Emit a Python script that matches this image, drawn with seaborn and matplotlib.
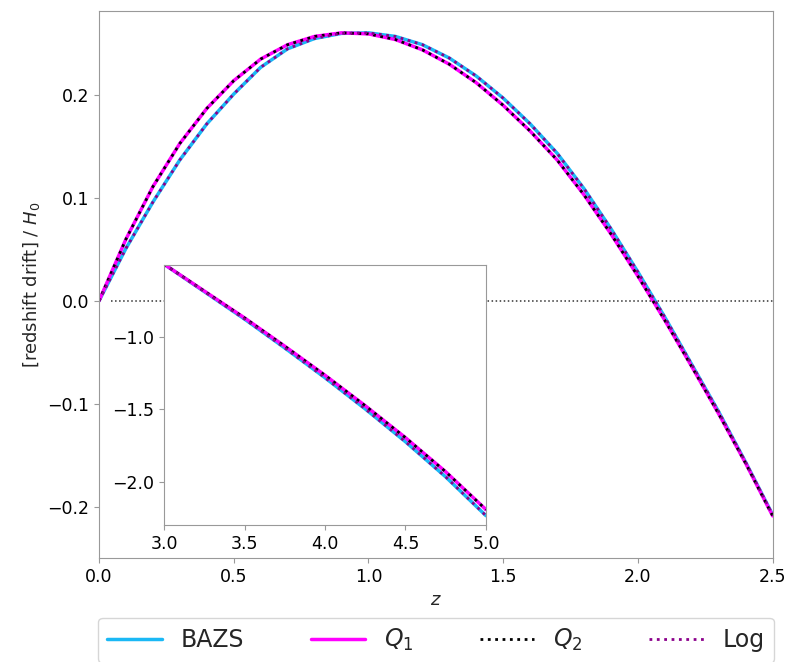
import numpy as np
import pandas as pd
import matplotlib
matplotlib.use('Agg')
import matplotlib.pyplot as plt
import seaborn as sns

# ── data ─────────────────────────────────────────────────────────────────────
z_main = [0.0, 0.1, 0.2, 0.3, 0.4, 0.5, 0.6, 0.7, 0.8, 0.9, 1.0, 1.1, 1.2,
          1.3, 1.4, 1.5, 1.6, 1.7, 1.8, 1.9, 2.0, 2.1, 2.2, 2.3, 2.4, 2.5]
q1_main = [0.000, 0.060, 0.111, 0.153, 0.187, 0.214, 0.235, 0.249, 0.257,
           0.2605, 0.2595, 0.254, 0.244, 0.230, 0.212, 0.190, 0.165, 0.137,
           0.103, 0.065, 0.024, -0.019, -0.064, -0.110, -0.158, -0.209]
bazs_main = [0.000, 0.051, 0.096, 0.137, 0.172, 0.201, 0.227, 0.245, 0.255,
             0.260, 0.2605, 0.257, 0.249, 0.236, 0.2185, 0.197, 0.172, 0.1435,
             0.109, 0.070, 0.028, -0.016, -0.062, -0.108, -0.157, -0.208]
q2_main = q1_main
log_main = bazs_main

z_inset = [3.0, 3.25, 3.5, 3.75, 4.0, 4.25, 4.5, 4.75, 5.0]
q1_inset = [-0.500, -0.685, -0.870, -1.065, -1.265, -1.475, -1.695, -1.930, -2.190]
bazs_inset = [-0.500, -0.689, -0.878, -1.077, -1.282, -1.497, -1.723, -1.965, -2.232]
q2_inset = q1_inset
log_inset = bazs_inset

zero_z = [0.045, 2.5]
zero_y = [0.0, 0.0]

labels = ['BAZS', '$Q_1$', '$Q_2$', 'Log']
colors = ['#1ab8f5', '#ff00ff', 'black', '#8b008b']
styles = ['-', '-', ':', ':']
widths = [2.5, 2.5, 2.0, 2.0]

# ── style ────────────────────────────────────────────────────────────────────
sns.set_style('white')
plt.rcParams['font.family'] = ['DejaVu Sans']
plt.rcParams['axes.edgecolor'] = '#999999'
plt.rcParams['xtick.color'] = '#999999'
plt.rcParams['ytick.color'] = '#999999'
plt.rcParams['xtick.labelcolor'] = 'black'
plt.rcParams['ytick.labelcolor'] = 'black'
plt.rcParams['xtick.bottom'] = True
plt.rcParams['ytick.left'] = True

fig = plt.figure(figsize=(7.87, 6.62), dpi=100)
ax = fig.add_axes([0.1258, 0.157, 0.8560, 0.8268])

main_sets = [bazs_main, q1_main, q2_main, log_main]
for vals, lab, c, ls, lw in zip(main_sets, labels, colors, styles, widths):
    sns.lineplot(x=z_main, y=vals, ax=ax, color=c, linestyle=ls, linewidth=lw,
                 label=lab, legend=False)
ax.plot(zero_z, zero_y, ':', color='#333333', linewidth=1.1, zorder=0)

ax.set_xlim(0, 2.5)
ax.set_ylim(-0.25, 0.282)
ax.set_xticks([0.0, 0.5, 1.0, 1.5, 2.0, 2.5])
ax.set_yticks([-0.2, -0.1, 0.0, 0.1, 0.2])
ax.tick_params(labelsize=12.5)
ax.set_xlabel('$z$', fontsize=13, labelpad=4)
ax.set_ylabel('[redshift drift] / $H_0$', fontsize=13)

# ── inset ────────────────────────────────────────────────────────────────────
axin = fig.add_axes([0.2084, 0.207, 0.4091, 0.3931])
axin.set_facecolor('white')
inset_sets = [bazs_inset, q1_inset, q2_inset, log_inset]
for vals, c, ls, lw in zip(inset_sets, colors, styles, widths):
    sns.lineplot(x=z_inset, y=vals, ax=axin, color=c, linestyle=ls,
                 linewidth=lw, legend=False)
axin.set_xlim(3, 5)
axin.set_ylim(-2.296, -0.504)
axin.set_xticks([3.0, 3.5, 4.0, 4.5, 5.0])
axin.set_yticks([-2.0, -1.5, -1.0])
axin.tick_params(labelsize=12.5)

# ── legend below ─────────────────────────────────────────────────────────────
handles, labs = ax.get_legend_handles_labels()
fig.legend(handles, labs, loc='upper center', ncol=4, mode='expand',
           bbox_to_anchor=(0.1245, 0.0, 0.859, 0.067), borderaxespad=0,
           fontsize=17, frameon=True, fancybox=True, handlelength=2.3)

fig.savefig('out.png', dpi=100)
